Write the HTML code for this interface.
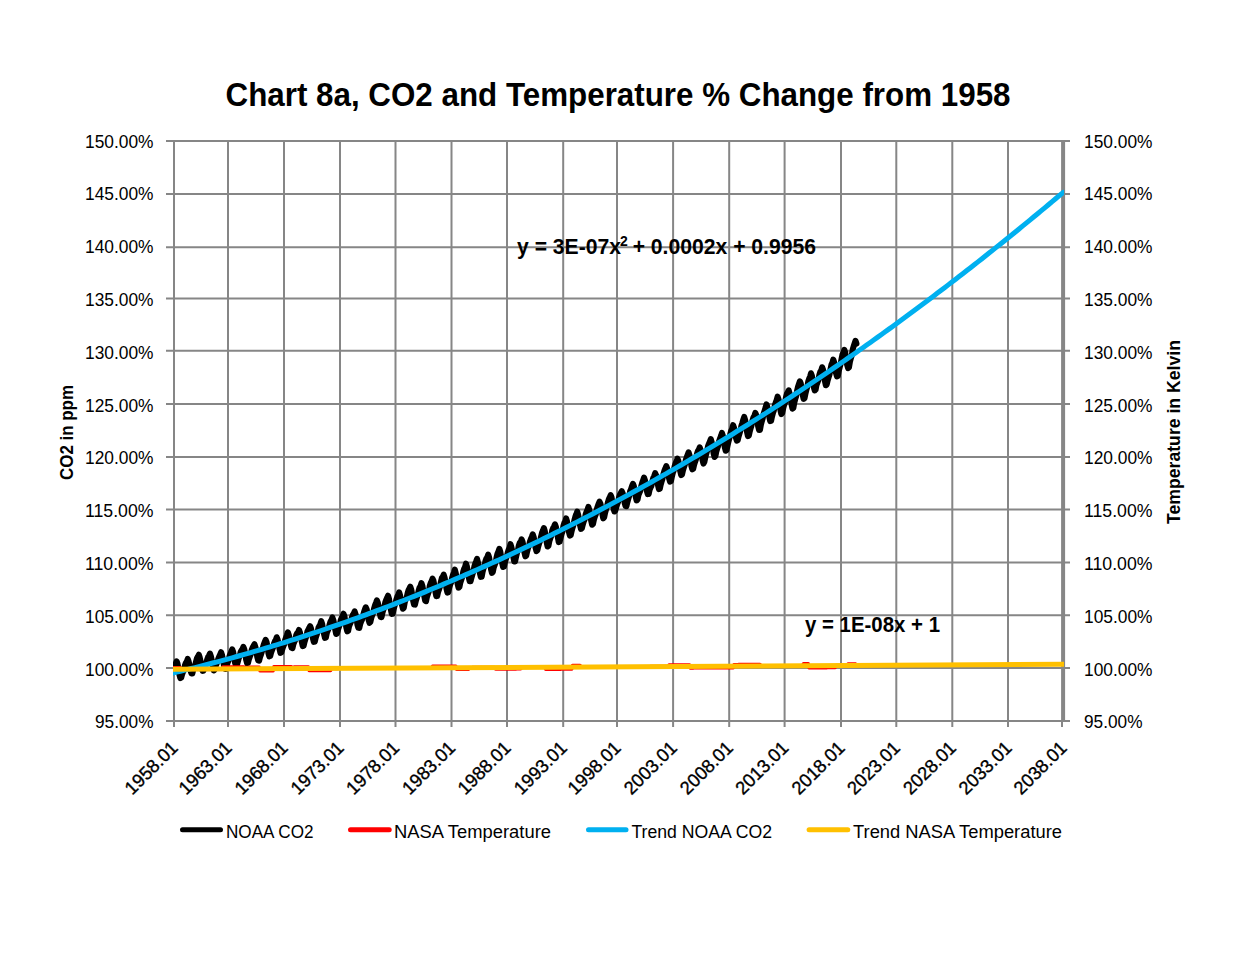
<!DOCTYPE html><html><head><meta charset="utf-8"><style>html,body{margin:0;padding:0;background:#fff;width:1234px;height:953px;overflow:hidden}svg{display:block}text{font-family:"Liberation Sans",sans-serif;fill:#000}.r{stroke:#000;stroke-width:0.35px}.b{font-weight:bold}</style></head><body>
<svg width="1234" height="953" viewBox="0 0 1234 953">
<rect width="1234" height="953" fill="#fff"/>
<defs><clipPath id="pa"><rect x="173" y="139" width="891" height="583"/></clipPath></defs>
<path d="M166 141.00H1070M166 194.00H1070M166 247.20H1070M166 298.40H1070M166 350.70H1070M166 404.00H1070M166 456.90H1070M166 509.50H1070M166 562.40H1070M166 615.20H1070M166 668.00H1070M166 721.00H1070M228.00 140.00V727M284.00 140.00V727M340.00 140.00V727M395.50 140.00V727M451.50 140.00V727M507.00 140.00V727M563.20 140.00V727M617.00 140.00V727M673.10 140.00V727M729.20 140.00V727M784.60 140.00V727M841.00 140.00V727M896.30 140.00V727M952.30 140.00V727M1008.00 140.00V727" stroke="#868686" stroke-width="2" fill="none"/>
<path d="M174 140.00V727" stroke="#868686" stroke-width="2" fill="none"/>
<path d="M1063.1 140.00V721" stroke="#868686" stroke-width="4" fill="none"/>
<path d="M1062 721V727" stroke="#868686" stroke-width="2" fill="none"/>
<g clip-path="url(#pa)">
<polyline points="172.86,672.14 173.79,668.22 174.72,665.55 175.64,663.67 176.57,661.27 177.50,663.47 178.43,668.22 179.35,674.54 180.28,678.08 181.21,677.77 182.14,674.30 183.06,671.89 183.99,669.73 184.92,665.32 185.85,662.85 186.77,661.72 187.70,658.90 188.63,661.33 189.56,665.18 190.48,670.39 191.41,673.50 192.34,673.58 193.27,669.53 194.19,667.32 195.12,665.41 196.05,661.52 196.98,658.12 197.90,656.68 198.83,654.70 199.76,657.54 200.69,661.68 201.61,667.32 202.54,670.85 203.47,670.69 204.40,667.72 205.32,664.98 206.25,662.97 207.18,659.56 208.11,656.96 209.03,655.58 209.96,653.53 210.89,656.22 211.82,660.35 212.74,666.09 213.67,670.50 214.60,669.79 215.53,666.57 216.45,664.10 217.38,661.66 218.31,658.63 219.24,656.46 220.16,654.40 221.09,652.21 222.02,654.98 222.95,659.41 223.87,665.23 224.80,668.81 225.73,668.98 226.66,665.84 227.58,662.84 228.51,660.64 229.44,656.37 230.37,653.89 231.29,651.83 232.22,649.35 233.15,651.79 234.08,656.73 235.00,662.73 235.93,665.72 236.86,665.28 237.79,661.90 238.71,658.45 239.64,656.12 240.57,652.21 241.50,650.37 242.42,649.22 243.35,646.84 244.28,649.17 245.21,653.57 246.13,659.75 247.06,663.14 247.99,662.89 248.92,659.34 249.84,656.69 250.77,654.38 251.70,649.93 252.63,647.49 253.55,645.85 254.48,644.18 255.41,646.93 256.34,651.36 257.26,657.07 258.19,660.46 259.12,660.78 260.05,657.00 260.97,654.57 261.90,651.66 262.83,647.78 263.76,644.47 264.68,642.07 265.61,639.77 266.54,641.91 267.47,646.56 268.39,653.10 269.32,656.33 270.25,655.95 271.18,652.35 272.10,649.98 273.03,647.65 273.96,643.54 274.89,641.33 275.81,640.00 276.74,637.21 277.67,639.63 278.60,644.13 279.52,649.15 280.45,652.93 281.38,652.44 282.31,649.15 283.23,646.59 284.16,644.34 285.09,640.01 286.02,637.40 286.94,634.98 287.87,632.27 288.80,635.03 289.73,638.71 290.65,644.79 291.58,647.79 292.51,648.16 293.44,644.11 294.36,641.93 295.29,639.79 296.22,635.09 297.15,633.19 298.07,632.31 299.00,629.94 299.93,632.30 300.86,636.77 301.78,641.92 302.71,646.12 303.64,645.72 304.57,641.87 305.49,638.83 306.42,636.27 307.35,631.63 308.28,629.68 309.20,628.06 310.13,626.16 311.06,628.66 311.99,632.92 312.92,638.40 313.84,641.87 314.77,641.77 315.70,637.76 316.63,634.95 317.55,632.05 318.48,627.63 319.41,625.84 320.34,623.98 321.26,621.19 322.19,623.95 323.12,629.25 324.05,634.26 324.97,637.94 325.90,637.56 326.83,632.96 327.76,630.67 328.68,628.39 329.61,624.29 330.54,621.37 331.47,620.03 332.39,617.45 333.32,619.99 334.25,624.21 335.18,629.48 336.10,633.95 337.03,633.63 337.96,629.90 338.89,627.16 339.81,624.63 340.74,620.22 341.67,617.89 342.60,616.15 343.52,613.70 344.45,616.29 345.38,621.52 346.31,627.52 347.23,631.40 348.16,630.91 349.09,626.28 350.02,623.92 350.94,621.90 351.87,617.48 352.80,614.95 353.73,613.55 354.65,611.36 355.58,614.18 356.51,618.52 357.44,624.82 358.36,627.87 359.29,627.95 360.22,624.00 361.15,621.40 362.07,619.60 363.00,615.67 363.93,612.14 364.86,609.51 365.78,607.26 366.71,609.24 367.64,613.88 368.57,619.96 369.49,622.94 370.42,621.79 371.35,617.91 372.28,615.11 373.20,612.56 374.13,608.25 375.06,605.14 375.99,602.83 376.91,600.37 377.84,602.64 378.77,606.82 379.70,613.08 380.62,617.04 381.55,617.16 382.48,612.74 383.41,609.69 384.33,606.91 385.26,602.29 386.19,599.78 387.12,597.88 388.04,595.68 388.97,598.57 389.90,604.36 390.83,609.64 391.75,613.95 392.68,613.73 393.61,609.61 394.54,606.07 395.46,603.43 396.39,599.40 397.32,596.58 398.25,594.92 399.17,592.26 400.10,595.42 401.03,600.21 401.96,605.14 402.88,608.80 403.81,607.82 404.74,602.40 405.67,599.52 406.59,597.85 407.52,593.59 408.45,590.40 409.38,588.44 410.30,586.58 411.23,589.42 412.16,594.42 413.09,600.46 414.01,604.48 414.94,604.70 415.87,600.78 416.80,597.91 417.72,594.89 418.65,590.63 419.58,587.47 420.51,586.21 421.43,583.04 422.36,585.65 423.29,590.57 424.22,596.02 425.14,600.79 426.07,601.20 427.00,596.70 427.93,593.99 428.85,591.50 429.78,585.71 430.71,582.96 431.64,581.16 432.56,578.59 433.49,580.78 434.42,585.63 435.35,591.65 436.27,596.18 437.20,596.09 438.13,591.80 439.06,589.42 439.98,586.49 440.91,581.66 441.84,577.91 442.77,576.83 443.69,574.58 444.62,577.58 445.55,582.71 446.48,588.71 447.40,592.65 448.33,592.19 449.26,587.69 450.19,584.58 451.12,582.53 452.04,578.00 452.97,574.87 453.90,572.66 454.83,569.60 455.75,572.93 456.68,578.00 457.61,584.00 458.54,587.71 459.46,586.88 460.39,582.45 461.32,579.72 462.25,576.81 463.17,571.98 464.10,568.87 465.03,567.04 465.96,563.61 466.88,566.24 467.81,570.92 468.74,577.53 469.67,581.24 470.59,581.30 471.52,577.60 472.45,574.31 473.38,571.34 474.30,566.71 475.23,563.69 476.16,561.38 477.09,558.88 478.01,562.48 478.94,567.32 479.87,573.35 480.80,576.88 481.72,576.76 482.65,571.77 483.58,568.19 484.51,566.13 485.43,560.99 486.36,558.49 487.29,557.27 488.22,554.56 489.14,557.45 490.07,563.28 491.00,569.24 491.93,572.90 492.85,571.93 493.78,567.45 494.71,564.90 495.64,562.49 496.56,557.15 497.49,553.64 498.42,551.48 499.35,548.82 500.27,551.45 501.20,556.66 502.13,563.04 503.06,566.98 503.98,566.69 504.91,562.31 505.84,559.10 506.77,556.59 507.69,552.61 508.62,549.73 509.55,547.75 510.48,544.15 511.40,547.04 512.33,551.22 513.26,556.87 514.19,561.40 515.11,561.50 516.04,557.00 516.97,553.13 517.90,550.35 518.82,545.39 519.75,542.77 520.68,541.96 521.61,539.29 522.53,541.64 523.46,546.17 524.39,552.38 525.32,556.38 526.24,555.66 527.17,551.37 528.10,547.81 529.03,545.72 529.95,541.51 530.88,538.97 531.81,536.85 532.74,534.33 533.66,536.94 534.59,541.74 535.52,547.73 536.45,551.16 537.37,550.31 538.30,546.36 539.23,543.22 540.16,540.69 541.08,536.46 542.01,532.70 542.94,530.56 543.87,528.02 544.79,530.96 545.72,535.82 546.65,542.44 547.58,546.52 548.50,545.70 549.43,540.96 550.36,538.28 551.29,535.84 552.21,530.32 553.14,528.01 554.07,526.44 555.00,524.31 555.92,526.74 556.85,531.51 557.78,537.05 558.71,542.13 559.63,541.68 560.56,537.92 561.49,534.39 562.42,531.68 563.34,526.18 564.27,523.01 565.20,521.58 566.13,518.28 567.05,521.40 567.98,526.42 568.91,531.94 569.84,535.63 570.76,535.16 571.69,530.81 572.62,527.52 573.55,524.53 574.47,519.82 575.40,516.48 576.33,514.18 577.26,511.62 578.18,514.77 579.11,519.06 580.04,525.20 580.97,528.93 581.89,528.34 582.82,524.54 583.75,521.34 584.68,519.46 585.60,514.52 586.53,511.79 587.46,509.89 588.39,506.92 589.31,509.84 590.24,514.65 591.17,520.90 592.10,524.74 593.03,523.96 593.95,519.65 594.88,516.64 595.81,514.44 596.74,509.42 597.66,506.47 598.59,503.89 599.52,501.60 600.45,503.75 601.37,507.86 602.30,513.89 603.23,518.35 604.16,517.45 605.08,512.81 606.01,509.58 606.94,506.62 607.87,502.40 608.79,499.27 609.72,497.29 610.65,495.07 611.58,497.44 612.50,502.56 613.43,508.12 614.36,511.54 615.29,510.61 616.21,507.39 617.14,504.33 618.07,501.93 619.00,497.44 619.92,494.67 620.85,492.93 621.78,491.17 622.71,493.21 623.63,497.28 624.56,502.74 625.49,506.04 626.42,506.20 627.34,502.39 628.27,498.98 629.20,495.83 630.13,491.25 631.05,489.07 631.98,486.06 632.91,483.81 633.84,485.97 634.76,491.29 635.69,496.70 636.62,500.44 637.55,499.58 638.47,495.08 639.40,492.85 640.33,490.70 641.26,486.04 642.18,482.82 643.11,480.25 644.04,477.60 644.97,480.24 645.89,485.02 646.82,490.85 647.75,494.19 648.68,493.98 649.60,489.87 650.53,487.53 651.46,485.78 652.39,481.16 653.31,477.88 654.24,476.02 655.17,473.11 656.10,475.22 657.02,479.84 657.95,485.11 658.88,489.12 659.81,488.75 660.73,484.63 661.66,481.50 662.59,478.54 663.52,473.59 664.44,470.60 665.37,468.55 666.30,466.04 667.23,468.54 668.15,472.63 669.08,478.48 670.01,481.67 670.94,481.17 671.86,476.88 672.79,473.02 673.72,470.59 674.65,466.23 675.57,463.32 676.50,461.38 677.43,458.63 678.36,460.79 679.28,465.50 680.21,471.17 681.14,475.08 682.07,474.32 682.99,470.26 683.92,467.35 684.85,464.70 685.78,459.97 686.70,457.31 687.63,454.73 688.56,452.32 689.49,454.99 690.41,459.87 691.34,465.87 692.27,469.35 693.20,468.90 694.12,464.86 695.05,461.92 695.98,459.27 696.91,453.90 697.83,451.14 698.76,449.73 699.69,447.36 700.62,449.85 701.54,453.78 702.47,460.00 703.40,463.62 704.33,462.07 705.25,457.89 706.18,454.11 707.11,450.88 708.04,446.02 708.96,443.66 709.89,441.61 710.82,439.02 711.75,442.33 712.67,447.73 713.60,453.44 714.53,457.02 715.46,456.00 716.38,451.24 717.31,448.25 718.24,445.64 719.17,440.91 720.09,438.22 721.02,435.83 721.95,432.95 722.88,435.73 723.80,440.68 724.73,446.95 725.66,450.78 726.59,450.10 727.51,445.68 728.44,441.90 729.37,438.32 730.30,433.78 731.23,430.62 732.15,428.75 733.08,425.13 734.01,427.51 734.94,432.09 735.86,437.69 736.79,440.61 737.72,440.24 738.65,436.30 739.57,433.34 740.50,430.34 741.43,425.60 742.36,422.88 743.28,419.70 744.21,416.94 745.14,419.84 746.07,425.05 746.99,431.81 747.92,436.12 748.85,435.76 749.78,431.27 750.70,428.25 751.63,425.05 752.56,420.08 753.49,417.23 754.41,415.95 755.34,412.80 756.27,415.14 757.20,419.92 758.12,426.35 759.05,429.99 759.98,430.03 760.91,424.81 761.83,421.27 762.76,418.17 763.69,413.49 764.62,410.61 765.54,407.73 766.47,404.32 767.40,406.95 768.33,411.47 769.25,416.79 770.18,421.15 771.11,420.92 772.04,416.48 772.96,412.90 773.89,410.43 774.82,405.30 775.75,402.51 776.67,399.94 777.60,396.57 778.53,399.19 779.46,403.75 780.38,410.10 781.31,414.08 782.24,413.19 783.17,408.58 784.09,405.08 785.02,402.58 785.95,397.29 786.88,393.86 787.80,392.32 788.73,390.30 789.66,393.60 790.59,398.33 791.51,404.31 792.44,408.70 793.37,407.95 794.30,402.63 795.22,399.16 796.15,396.28 797.08,390.75 798.01,386.66 798.93,383.91 799.86,381.26 800.79,383.51 801.72,388.43 802.64,394.68 803.57,398.90 804.50,398.29 805.43,393.80 806.35,389.99 807.28,386.89 808.21,381.42 809.14,378.70 810.06,376.58 810.99,373.26 811.92,375.73 812.85,380.65 813.77,387.17 814.70,390.43 815.63,389.59 816.56,384.79 817.48,382.60 818.41,380.03 819.34,374.85 820.27,371.80 821.19,370.50 822.12,367.22 823.05,369.52 823.98,374.94 824.90,381.20 825.83,385.31 826.76,384.44 827.69,380.37 828.61,377.46 829.54,374.44 830.47,369.35 831.40,364.86 832.32,362.83 833.25,359.52 834.18,362.18 835.11,367.35 836.03,373.25 836.96,376.36 837.89,375.99 838.82,370.78 839.74,367.14 840.67,363.83 841.60,358.54 842.53,354.19 843.45,352.68 844.38,349.77 845.31,352.91 846.24,358.81 847.16,364.98 848.09,368.10 849.02,367.21 849.95,361.86 850.87,358.24 851.80,355.33 852.73,349.36 853.66,346.29 854.58,343.59 855.51,340.83 856.44,343.56" stroke="#000" stroke-width="6" fill="none" stroke-linejoin="round" stroke-linecap="round"/>
<polyline points="172.86,667.81 173.79,667.80 174.72,667.80 175.64,667.79 176.57,667.79 177.50,667.78 178.43,667.78 179.35,667.77 180.28,667.76 181.21,669.26 182.14,669.25 183.06,669.25 183.99,669.24 184.92,669.24 185.85,669.23 186.77,669.23 187.70,669.22 188.63,669.22 189.56,669.21 190.48,669.21 191.41,669.20 192.34,669.20 193.27,669.19 194.19,669.19 195.12,669.18 196.05,669.18 196.98,669.17 197.90,669.17 198.83,669.16 199.76,669.16 200.69,669.15 201.61,669.14 202.54,669.14 203.47,669.13 204.40,669.13 205.32,669.12 206.25,669.12 207.18,669.11 208.11,669.11 209.03,669.10 209.96,669.10 210.89,669.09 211.82,669.09 212.74,669.08 213.67,669.08 214.60,669.07 215.53,669.07 216.45,669.06 217.38,669.06 218.31,669.05 219.24,669.05 220.16,669.04 221.09,669.04 222.02,669.03 222.95,667.02 223.87,667.02 224.80,667.01 225.73,667.01 226.66,667.00 227.58,667.00 228.51,666.99 229.44,666.99 230.37,666.98 231.29,666.98 232.22,666.97 233.15,666.97 234.08,666.96 235.00,666.96 235.93,666.95 236.86,666.95 237.79,666.94 238.71,666.94 239.64,666.93 240.57,666.93 241.50,666.92 242.42,666.92 243.35,666.91 244.28,667.40 245.21,667.40 246.13,667.39 247.06,667.39 247.99,667.38 248.92,667.38 249.84,667.37 250.77,667.37 251.70,667.36 252.63,667.36 253.55,667.35 254.48,667.35 255.41,667.34 256.34,667.34 257.26,667.33 258.19,667.33 259.12,667.32 260.05,670.82 260.97,670.81 261.90,670.81 262.83,670.80 263.76,670.80 264.68,670.79 265.61,670.78 266.54,670.78 267.47,670.77 268.39,670.77 269.32,670.76 270.25,670.76 271.18,670.75 272.10,670.75 273.03,670.74 273.96,666.74 274.89,666.73 275.81,666.73 276.74,666.72 277.67,666.72 278.60,666.71 279.52,666.71 280.45,666.70 281.38,666.70 282.31,666.69 283.23,666.69 284.16,666.68 285.09,666.68 286.02,666.67 286.94,666.66 287.87,666.66 288.80,666.65 289.73,666.65 290.65,666.64 291.58,667.14 292.51,667.13 293.44,667.13 294.36,667.12 295.29,667.12 296.22,667.11 297.15,667.11 298.07,667.10 299.00,667.10 299.93,667.09 300.86,667.09 301.78,667.08 302.71,667.08 303.64,667.07 304.57,667.07 305.49,667.06 306.42,667.06 307.35,667.05 308.28,667.04 309.20,670.54 310.13,670.53 311.06,670.53 311.99,670.52 312.92,670.52 313.84,670.51 314.77,670.51 315.70,670.50 316.63,670.50 317.55,670.49 318.48,670.49 319.41,670.48 320.34,670.48 321.26,670.47 322.19,670.47 323.12,670.46 324.05,670.46 324.97,670.45 325.90,670.45 326.83,670.44 327.76,670.44 328.68,670.43 329.61,670.42 330.54,670.42 331.47,668.41 332.39,668.41 333.32,668.40 334.25,668.40 335.18,668.39 336.10,668.39 337.03,668.38 337.96,668.38 338.89,668.37 339.81,668.37 340.74,668.36 341.67,668.36 342.60,668.35 343.52,668.35 344.45,668.34 345.38,668.34 346.31,668.33 347.23,668.33 348.16,668.32 349.09,668.32 350.02,668.31 350.94,668.30 351.87,668.30 352.80,668.29 353.73,668.29 354.65,668.28 355.58,668.28 356.51,668.27 357.44,668.27 358.36,668.26 359.29,668.26 360.22,668.25 361.15,668.25 362.07,668.24 363.00,668.24 363.93,668.23 364.86,668.23 365.78,668.22 366.71,668.22 367.64,668.21 368.57,668.21 369.49,668.20 370.42,668.20 371.35,668.19 372.28,668.18 373.20,668.18 374.13,668.17 375.06,668.17 375.99,668.16 376.91,668.16 377.84,668.15 378.77,668.15 379.70,668.14 380.62,668.14 381.55,668.13 382.48,668.13 383.41,668.12 384.33,668.12 385.26,668.11 386.19,668.11 387.12,668.10 388.04,668.10 388.97,668.09 389.90,668.09 390.83,668.08 391.75,668.08 392.68,668.07 393.61,668.06 394.54,668.06 395.46,668.05 396.39,668.05 397.32,668.04 398.25,668.04 399.17,668.03 400.10,668.03 401.03,668.02 401.96,668.02 402.88,668.01 403.81,668.01 404.74,668.00 405.67,668.00 406.59,667.99 407.52,667.99 408.45,667.98 409.38,667.98 410.30,667.97 411.23,667.97 412.16,667.96 413.09,667.96 414.01,667.95 414.94,667.94 415.87,667.94 416.80,667.93 417.72,667.93 418.65,667.92 419.58,667.92 420.51,667.91 421.43,667.91 422.36,667.90 423.29,667.90 424.22,667.89 425.14,667.89 426.07,667.88 427.00,667.88 427.93,667.87 428.85,667.87 429.78,667.86 430.71,667.86 431.64,667.85 432.56,666.35 433.49,666.34 434.42,666.34 435.35,666.33 436.27,666.32 437.20,666.32 438.13,666.31 439.06,666.31 439.98,666.30 440.91,666.30 441.84,666.29 442.77,666.29 443.69,666.28 444.62,666.28 445.55,666.27 446.48,666.27 447.40,666.26 448.33,666.26 449.26,666.25 450.19,666.25 451.12,666.24 452.04,666.24 452.97,666.23 453.90,666.23 454.83,666.22 455.75,666.22 456.68,669.21 457.61,669.20 458.54,669.20 459.46,669.19 460.39,669.19 461.32,669.18 462.25,669.18 463.17,669.17 464.10,669.17 465.03,669.16 465.96,669.16 466.88,669.15 467.81,669.15 468.74,669.14 469.67,667.64 470.59,667.63 471.52,667.63 472.45,667.62 473.38,667.62 474.30,667.61 475.23,667.61 476.16,667.60 477.09,667.60 478.01,667.59 478.94,667.58 479.87,667.58 480.80,667.57 481.72,667.57 482.65,667.56 483.58,667.56 484.51,667.55 485.43,667.55 486.36,667.54 487.29,667.54 488.22,667.53 489.14,667.53 490.07,667.52 491.00,667.52 491.93,667.51 492.85,667.51 493.78,667.50 494.71,667.50 495.64,668.99 496.56,668.99 497.49,668.98 498.42,668.98 499.35,668.97 500.27,668.96 501.20,668.96 502.13,668.95 503.06,668.95 503.98,668.94 504.91,668.94 505.84,668.93 506.77,668.93 507.69,668.92 508.62,668.92 509.55,668.91 510.48,668.91 511.40,668.90 512.33,668.90 513.26,668.89 514.19,668.89 515.11,668.88 516.04,668.88 516.97,668.87 517.90,668.87 518.82,668.86 519.75,668.86 520.68,668.85 521.61,667.34 522.53,667.34 523.46,667.33 524.39,667.33 525.32,667.32 526.24,667.32 527.17,667.31 528.10,667.31 529.03,667.30 529.95,667.30 530.88,667.29 531.81,667.29 532.74,667.28 533.66,667.28 534.59,667.27 535.52,667.27 536.45,667.26 537.37,667.26 538.30,667.25 539.23,667.25 540.16,667.24 541.08,667.24 542.01,667.23 542.94,667.22 543.87,667.22 544.79,667.21 545.72,669.21 546.65,669.20 547.58,669.20 548.50,669.19 549.43,669.19 550.36,669.18 551.29,669.18 552.21,669.17 553.14,669.17 554.07,669.16 555.00,669.16 555.92,669.15 556.85,669.15 557.78,669.14 558.71,669.14 559.63,669.13 560.56,669.13 561.49,669.12 562.42,669.12 563.34,669.11 564.27,669.10 565.20,669.10 566.13,669.09 567.05,669.09 567.98,669.08 568.91,669.08 569.84,669.07 570.76,669.07 571.69,669.06 572.62,665.56 573.55,665.55 574.47,665.55 575.40,665.54 576.33,665.54 577.26,665.53 578.18,665.53 579.11,665.52 580.04,665.52 580.97,667.01 581.89,667.01 582.82,667.00 583.75,667.00 584.68,666.99 585.60,666.99 586.53,666.98 587.46,666.97 588.39,666.97 589.31,666.96 590.24,666.96 591.17,666.95 592.10,666.95 593.03,666.94 593.95,666.94 594.88,666.93 595.81,666.93 596.74,666.92 597.66,666.92 598.59,666.91 599.52,666.91 600.45,666.90 601.37,666.90 602.30,666.89 603.23,666.89 604.16,666.88 605.08,666.88 606.01,666.87 606.94,666.87 607.87,666.86 608.79,666.85 609.72,666.85 610.65,666.84 611.58,666.84 612.50,666.83 613.43,666.83 614.36,666.82 615.29,666.82 616.21,666.81 617.14,666.81 618.07,666.80 619.00,666.80 619.92,666.79 620.85,666.79 621.78,666.78 622.71,666.78 623.63,666.77 624.56,666.77 625.49,666.76 626.42,666.76 627.34,666.75 628.27,666.75 629.20,666.74 630.13,666.73 631.05,666.73 631.98,666.72 632.91,666.72 633.84,666.71 634.76,666.71 635.69,666.70 636.62,666.70 637.55,666.69 638.47,666.69 639.40,666.68 640.33,666.68 641.26,666.67 642.18,666.67 643.11,666.66 644.04,666.66 644.97,666.65 645.89,666.65 646.82,666.64 647.75,666.64 648.68,666.63 649.60,666.63 650.53,666.62 651.46,666.61 652.39,666.61 653.31,666.60 654.24,666.60 655.17,666.59 656.10,666.59 657.02,666.58 657.95,666.58 658.88,666.57 659.81,666.57 660.73,666.56 661.66,666.56 662.59,666.55 663.52,666.55 664.44,666.54 665.37,666.54 666.30,666.53 667.23,666.53 668.15,666.52 669.08,665.02 670.01,665.01 670.94,665.01 671.86,665.00 672.79,664.99 673.72,664.99 674.65,664.98 675.57,664.98 676.50,664.97 677.43,664.97 678.36,664.96 679.28,664.96 680.21,664.95 681.14,664.95 682.07,664.94 682.99,664.94 683.92,664.93 684.85,664.93 685.78,664.92 686.70,664.92 687.63,664.91 688.56,664.91 689.49,664.90 690.41,667.90 691.34,667.89 692.27,667.89 693.20,667.88 694.12,667.87 695.05,667.87 695.98,667.86 696.91,667.86 697.83,667.85 698.76,667.85 699.69,667.84 700.62,667.84 701.54,667.83 702.47,667.83 703.40,667.82 704.33,667.82 705.25,667.81 706.18,667.81 707.11,667.80 708.04,667.80 708.96,667.79 709.89,667.79 710.82,667.78 711.75,667.78 712.67,667.77 713.60,667.77 714.53,667.76 715.46,667.75 716.38,667.75 717.31,667.74 718.24,667.74 719.17,667.73 720.09,667.73 721.02,667.72 721.95,667.72 722.88,667.71 723.80,667.71 724.73,667.70 725.66,667.70 726.59,667.69 727.51,667.69 728.44,667.68 729.37,667.68 730.30,667.67 731.23,667.67 732.15,667.66 733.08,667.66 734.01,664.65 734.94,664.65 735.86,664.64 736.79,664.63 737.72,664.63 738.65,664.62 739.57,664.62 740.50,664.61 741.43,664.61 742.36,664.60 743.28,664.60 744.21,664.59 745.14,664.59 746.07,664.58 746.99,664.58 747.92,664.57 748.85,664.57 749.78,664.56 750.70,664.56 751.63,664.55 752.56,664.55 753.49,664.54 754.41,664.54 755.34,664.53 756.27,664.53 757.20,664.52 758.12,664.51 759.05,664.51 759.98,664.50 760.91,666.00 761.83,665.99 762.76,665.99 763.69,665.98 764.62,665.98 765.54,665.97 766.47,665.97 767.40,665.96 768.33,665.96 769.25,665.95 770.18,665.95 771.11,665.94 772.04,665.94 772.96,665.93 773.89,665.93 774.82,665.92 775.75,665.92 776.67,665.91 777.60,665.91 778.53,665.90 779.46,665.89 780.38,665.89 781.31,665.88 782.24,665.88 783.17,665.87 784.09,665.87 785.02,665.86 785.95,665.86 786.88,665.85 787.80,665.85 788.73,665.84 789.66,665.84 790.59,665.83 791.51,665.83 792.44,665.82 793.37,665.82 794.30,665.81 795.22,665.81 796.15,665.80 797.08,665.80 798.01,665.79 798.93,665.79 799.86,665.78 800.79,665.77 801.72,665.77 802.64,665.76 803.57,663.76 804.50,663.75 805.43,663.75 806.35,663.74 807.28,663.74 808.21,663.73 809.14,667.73 810.06,667.72 810.99,667.72 811.92,667.71 812.85,667.71 813.77,667.70 814.70,667.70 815.63,667.69 816.56,667.69 817.48,667.68 818.41,667.68 819.34,667.67 820.27,667.67 821.19,667.66 822.12,667.65 823.05,667.65 823.98,667.64 824.90,667.64 825.83,667.63 826.76,667.63 827.69,667.62 828.61,667.62 829.54,667.61 830.47,667.61 831.40,667.60 832.32,667.60 833.25,667.59 834.18,667.59 835.11,667.58 836.03,665.58 836.96,665.57 837.89,665.57 838.82,665.56 839.74,665.56 840.67,665.55 841.60,665.55 842.53,665.54 843.45,665.53 844.38,665.53 845.31,665.52 846.24,665.52 847.16,665.51 848.09,664.01 849.02,664.00 849.95,664.00 850.87,663.99 851.80,663.99 852.73,663.98 853.66,663.98 854.58,663.97 855.51,663.97 856.44,663.96" stroke="#FF0000" stroke-width="3.5" fill="none" stroke-linejoin="round"/>
<polyline points="172.86,672.97 176.57,672.09 180.28,671.20 183.99,670.30 187.70,669.40 191.41,668.48 195.12,667.56 198.83,666.62 202.54,665.68 206.25,664.72 209.96,663.76 213.67,662.79 217.38,661.81 221.09,660.82 224.80,659.82 228.51,658.81 232.22,657.79 235.93,656.76 239.64,655.72 243.35,654.67 247.06,653.62 250.77,652.55 254.48,651.47 258.19,650.39 261.90,649.29 265.61,648.19 269.32,647.08 273.03,645.95 276.74,644.82 280.45,643.68 284.16,642.53 287.87,641.37 291.58,640.20 295.29,639.02 299.00,637.83 302.71,636.63 306.42,635.43 310.13,634.21 313.84,632.98 317.55,631.75 321.26,630.50 324.97,629.25 328.68,627.98 332.39,626.71 336.10,625.43 339.81,624.14 343.52,622.83 347.23,621.52 350.94,620.20 354.65,618.87 358.36,617.53 362.07,616.19 365.78,614.83 369.49,613.46 373.20,612.08 376.91,610.70 380.62,609.30 384.33,607.90 388.04,606.48 391.75,605.06 395.46,603.62 399.17,602.18 402.88,600.73 406.59,599.27 410.30,597.80 414.01,596.32 417.72,594.83 421.43,593.33 425.14,591.82 428.85,590.30 432.56,588.77 436.27,587.24 439.98,585.69 443.69,584.13 447.40,582.57 451.12,580.99 454.83,579.41 458.54,577.82 462.25,576.21 465.96,574.60 469.67,572.98 473.38,571.35 477.09,569.71 480.80,568.06 484.51,566.40 488.22,564.73 491.93,563.05 495.64,561.37 499.35,559.67 503.06,557.96 506.77,556.25 510.48,554.52 514.19,552.79 517.90,551.04 521.61,549.29 525.32,547.53 529.03,545.75 532.74,543.97 536.45,542.18 540.16,540.38 543.87,538.57 547.58,536.75 551.29,534.92 555.00,533.09 558.71,531.24 562.42,529.38 566.13,527.51 569.84,525.64 573.55,523.75 577.26,521.86 580.97,519.96 584.68,518.04 588.39,516.12 592.10,514.19 595.81,512.25 599.52,510.29 603.23,508.33 606.94,506.36 610.65,504.38 614.36,502.40 618.07,500.40 621.78,498.39 625.49,496.37 629.20,494.35 632.91,492.31 636.62,490.27 640.33,488.21 644.04,486.15 647.75,484.07 651.46,481.99 655.17,479.90 658.88,477.80 662.59,475.69 666.30,473.57 670.01,471.44 673.72,469.30 677.43,467.15 681.14,464.99 684.85,462.82 688.56,460.65 692.27,458.46 695.98,456.26 699.69,454.06 703.40,451.84 707.11,449.62 710.82,447.39 714.53,445.14 718.24,442.89 721.95,440.63 725.66,438.36 729.37,436.08 733.08,433.79 736.79,431.49 740.50,429.18 744.21,426.86 747.92,424.53 751.63,422.20 755.34,419.85 759.05,417.50 762.76,415.13 766.47,412.76 770.18,410.37 773.89,407.98 777.60,405.58 781.31,403.16 785.02,400.74 788.73,398.31 792.44,395.87 796.15,393.42 799.86,390.96 803.57,388.49 807.28,386.01 810.99,383.53 814.70,381.03 818.41,378.52 822.12,376.01 825.83,373.48 829.54,370.95 833.25,368.40 836.96,365.85 840.67,363.29 844.38,360.72 848.09,358.13 851.80,355.54 855.51,352.94 859.22,350.33 862.93,347.71 866.64,345.08 870.35,342.45 874.06,339.80 877.77,337.14 881.48,334.48 885.19,331.80 888.90,329.11 892.61,326.42 896.32,323.72 900.03,321.00 903.74,318.28 907.45,315.55 911.16,312.81 914.87,310.05 918.58,307.29 922.29,304.52 926.00,301.74 929.71,298.96 933.42,296.16 937.13,293.35 940.84,290.53 944.55,287.71 948.26,284.87 951.97,282.03 955.68,279.17 959.39,276.31 963.10,273.43 966.81,270.55 970.52,267.66 974.23,264.76 977.94,261.85 981.65,258.93 985.36,256.00 989.07,253.06 992.78,250.11 996.49,247.15 1000.20,244.18 1003.91,241.20 1007.62,238.22 1011.34,235.22 1015.05,232.22 1018.76,229.20 1022.47,226.18 1026.18,223.14 1029.89,220.10 1033.60,217.05 1037.31,213.99 1041.02,210.92 1044.73,207.84 1048.44,204.75 1052.15,201.65 1055.86,198.54 1059.57,195.42 1063.28,192.29 1063.28,192.29" stroke="#00B0F0" stroke-width="5" fill="none" stroke-linejoin="round" stroke-linecap="round"/>
<path d="M172 669.31L1064 664.29" stroke="#FFC000" stroke-width="5" fill="none"/>
</g>
<text id="title" class="b" x="225.5" y="106" font-size="33.40" textLength="785.0" lengthAdjust="spacingAndGlyphs">Chart 8a, CO2 and Temperature % Change from 1958</text>
<text id="yl0" x="153.5" y="147.5" font-size="18.20" text-anchor="end" textLength="68.5" lengthAdjust="spacingAndGlyphs">150.00%</text>
<text id="yr0" x="1084.0" y="147.5" font-size="18.20" textLength="68.5" lengthAdjust="spacingAndGlyphs">150.00%</text>
<text id="yl1" x="153.5" y="200.3" font-size="18.20" text-anchor="end" textLength="68.5" lengthAdjust="spacingAndGlyphs">145.00%</text>
<text id="yr1" x="1084.0" y="200.3" font-size="18.20" textLength="68.5" lengthAdjust="spacingAndGlyphs">145.00%</text>
<text id="yl2" x="153.5" y="253.1" font-size="18.20" text-anchor="end" textLength="68.5" lengthAdjust="spacingAndGlyphs">140.00%</text>
<text id="yr2" x="1084.0" y="253.1" font-size="18.20" textLength="68.5" lengthAdjust="spacingAndGlyphs">140.00%</text>
<text id="yl3" x="153.5" y="305.9" font-size="18.20" text-anchor="end" textLength="68.5" lengthAdjust="spacingAndGlyphs">135.00%</text>
<text id="yr3" x="1084.0" y="305.9" font-size="18.20" textLength="68.5" lengthAdjust="spacingAndGlyphs">135.00%</text>
<text id="yl4" x="153.5" y="358.7" font-size="18.20" text-anchor="end" textLength="68.5" lengthAdjust="spacingAndGlyphs">130.00%</text>
<text id="yr4" x="1084.0" y="358.7" font-size="18.20" textLength="68.5" lengthAdjust="spacingAndGlyphs">130.00%</text>
<text id="yl5" x="153.5" y="411.5" font-size="18.20" text-anchor="end" textLength="68.5" lengthAdjust="spacingAndGlyphs">125.00%</text>
<text id="yr5" x="1084.0" y="411.5" font-size="18.20" textLength="68.5" lengthAdjust="spacingAndGlyphs">125.00%</text>
<text id="yl6" x="153.5" y="464.3" font-size="18.20" text-anchor="end" textLength="68.5" lengthAdjust="spacingAndGlyphs">120.00%</text>
<text id="yr6" x="1084.0" y="464.3" font-size="18.20" textLength="68.5" lengthAdjust="spacingAndGlyphs">120.00%</text>
<text id="yl7" x="153.5" y="517.1" font-size="18.20" text-anchor="end" textLength="68.5" lengthAdjust="spacingAndGlyphs">115.00%</text>
<text id="yr7" x="1084.0" y="517.1" font-size="18.20" textLength="68.5" lengthAdjust="spacingAndGlyphs">115.00%</text>
<text id="yl8" x="153.5" y="569.9" font-size="18.20" text-anchor="end" textLength="68.5" lengthAdjust="spacingAndGlyphs">110.00%</text>
<text id="yr8" x="1084.0" y="569.9" font-size="18.20" textLength="68.5" lengthAdjust="spacingAndGlyphs">110.00%</text>
<text id="yl9" x="153.5" y="622.7" font-size="18.20" text-anchor="end" textLength="68.5" lengthAdjust="spacingAndGlyphs">105.00%</text>
<text id="yr9" x="1084.0" y="622.7" font-size="18.20" textLength="68.5" lengthAdjust="spacingAndGlyphs">105.00%</text>
<text id="yl10" x="153.5" y="675.5" font-size="18.20" text-anchor="end" textLength="68.5" lengthAdjust="spacingAndGlyphs">100.00%</text>
<text id="yr10" x="1084.0" y="675.5" font-size="18.20" textLength="68.5" lengthAdjust="spacingAndGlyphs">100.00%</text>
<text id="yl11" x="153.5" y="728.3" font-size="18.20" text-anchor="end" textLength="58.5" lengthAdjust="spacingAndGlyphs">95.00%</text>
<text id="yr11" x="1084.0" y="728.3" font-size="18.20" textLength="58.5" lengthAdjust="spacingAndGlyphs">95.00%</text>
<text id="xl0" class="r" transform="translate(179.00 749.00) rotate(-45)" font-size="18.60" text-anchor="end" textLength="66.0" lengthAdjust="spacingAndGlyphs">1958.01</text>
<text id="xl1" class="r" transform="translate(233.00 749.00) rotate(-45)" font-size="18.60" text-anchor="end" textLength="66.0" lengthAdjust="spacingAndGlyphs">1963.01</text>
<text id="xl2" class="r" transform="translate(289.00 749.00) rotate(-45)" font-size="18.60" text-anchor="end" textLength="66.0" lengthAdjust="spacingAndGlyphs">1968.01</text>
<text id="xl3" class="r" transform="translate(345.00 749.00) rotate(-45)" font-size="18.60" text-anchor="end" textLength="66.0" lengthAdjust="spacingAndGlyphs">1973.01</text>
<text id="xl4" class="r" transform="translate(400.50 749.00) rotate(-45)" font-size="18.60" text-anchor="end" textLength="66.0" lengthAdjust="spacingAndGlyphs">1978.01</text>
<text id="xl5" class="r" transform="translate(456.50 749.00) rotate(-45)" font-size="18.60" text-anchor="end" textLength="66.0" lengthAdjust="spacingAndGlyphs">1983.01</text>
<text id="xl6" class="r" transform="translate(512.00 749.00) rotate(-45)" font-size="18.60" text-anchor="end" textLength="66.0" lengthAdjust="spacingAndGlyphs">1988.01</text>
<text id="xl7" class="r" transform="translate(568.20 749.00) rotate(-45)" font-size="18.60" text-anchor="end" textLength="66.0" lengthAdjust="spacingAndGlyphs">1993.01</text>
<text id="xl8" class="r" transform="translate(622.00 749.00) rotate(-45)" font-size="18.60" text-anchor="end" textLength="66.0" lengthAdjust="spacingAndGlyphs">1998.01</text>
<text id="xl9" class="r" transform="translate(678.10 749.00) rotate(-45)" font-size="18.60" text-anchor="end" textLength="66.0" lengthAdjust="spacingAndGlyphs">2003.01</text>
<text id="xl10" class="r" transform="translate(734.20 749.00) rotate(-45)" font-size="18.60" text-anchor="end" textLength="66.0" lengthAdjust="spacingAndGlyphs">2008.01</text>
<text id="xl11" class="r" transform="translate(789.60 749.00) rotate(-45)" font-size="18.60" text-anchor="end" textLength="66.0" lengthAdjust="spacingAndGlyphs">2013.01</text>
<text id="xl12" class="r" transform="translate(846.00 749.00) rotate(-45)" font-size="18.60" text-anchor="end" textLength="66.0" lengthAdjust="spacingAndGlyphs">2018.01</text>
<text id="xl13" class="r" transform="translate(901.30 749.00) rotate(-45)" font-size="18.60" text-anchor="end" textLength="66.0" lengthAdjust="spacingAndGlyphs">2023.01</text>
<text id="xl14" class="r" transform="translate(957.30 749.00) rotate(-45)" font-size="18.60" text-anchor="end" textLength="66.0" lengthAdjust="spacingAndGlyphs">2028.01</text>
<text id="xl15" class="r" transform="translate(1013.00 749.00) rotate(-45)" font-size="18.60" text-anchor="end" textLength="66.0" lengthAdjust="spacingAndGlyphs">2033.01</text>
<text id="xl16" class="r" transform="translate(1068.00 749.00) rotate(-45)" font-size="18.60" text-anchor="end" textLength="66.0" lengthAdjust="spacingAndGlyphs">2038.01</text>
<text id="at1" class="b" transform="translate(73.0 480.0) rotate(-90)" font-size="18.00" textLength="95.0" lengthAdjust="spacingAndGlyphs">CO2 in ppm</text>
<text id="at2" class="b" transform="translate(1180.0 524.0) rotate(-90)" font-size="17.50" textLength="184.0" lengthAdjust="spacingAndGlyphs">Temperature in Kelvin</text>
<text id="eq1" class="b" x="517.0" y="254.3" font-size="21.20" textLength="299.0" lengthAdjust="spacingAndGlyphs">y = 3E-07x<tspan font-size="14" dy="-8" dx="-1">2</tspan><tspan dy="8" dx="-1"> + 0.0002x + 0.9956</tspan></text>
<text id="eq2" class="b" x="805.0" y="631.6" font-size="21.20" textLength="135.0" lengthAdjust="spacingAndGlyphs">y = 1E-08x + 1</text>
<path d="M182.5 829.8H220.5" stroke="#000" stroke-width="5" stroke-linecap="round"/>
<text id="lg0" x="226.0" y="837.5" font-size="17.50" textLength="87.5" lengthAdjust="spacingAndGlyphs">NOAA CO2</text>
<path d="M350.5 829.8H389.2" stroke="#FF0000" stroke-width="5" stroke-linecap="round"/>
<text id="lg1" x="394.0" y="837.5" font-size="17.50" textLength="157.0" lengthAdjust="spacingAndGlyphs">NASA Temperature</text>
<path d="M588.5 829.8H626.0" stroke="#00B0F0" stroke-width="5" stroke-linecap="round"/>
<text id="lg2" x="631.5" y="837.5" font-size="17.50" textLength="140.5" lengthAdjust="spacingAndGlyphs">Trend NOAA CO2</text>
<path d="M809.1 829.8H847.8" stroke="#FFC000" stroke-width="5" stroke-linecap="round"/>
<text id="lg3" x="853.0" y="837.5" font-size="17.50" textLength="209.0" lengthAdjust="spacingAndGlyphs">Trend NASA Temperature</text>
</svg></body></html>
